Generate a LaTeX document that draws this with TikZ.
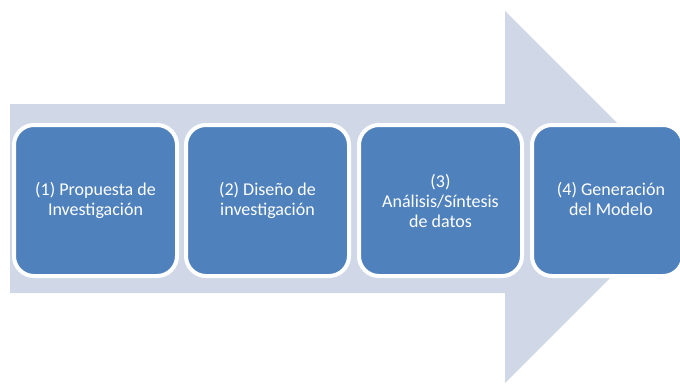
\documentclass[tikz,border=0pt]{standalone}
\usepackage{fontspec}
\setmainfont{Carlito}
\definecolor{arrowfill}{HTML}{D0D8E8}
\definecolor{boxblue}{HTML}{4F81BD}
\begin{document}
\begin{tikzpicture}[x=1pt,y=-1pt,
  stage/.style={draw=white, line width=4pt, fill=boxblue, rounded corners=20pt, minimum width=163pt, minimum height=151pt, inner sep=0pt, anchor=north west, text=white, font=\fontsize{18}{20}\selectfont, align=center},
  label4/.style={text=white, font=\fontsize{18}{20}\selectfont, align=center}]
\useasboundingbox (0,0) rectangle (680,383);
\clip (0,0) rectangle (680,383);
\fill[white] (0,0) rectangle (680,383);
\fill[arrowfill] (10,104) -- (505,104) -- (505,11) -- (691,197) -- (505,383) -- (505,293) -- (10,293) -- cycle;
\node[stage] (b1) at (12,123) {(1) Propuesta de\\Investigación};
\node[stage] (b2) at (184,123) {(2) Diseño de\\investigación};
\node[stage] (b3) at (357,123) {(3)\\Análisis/Síntesis\\de datos};
\node[stage, minimum width=151pt] (b4) at (530,123) {};
\node[label4] (t4) at (611,198.5) {(4) Generación\\del Modelo};
\end{tikzpicture}
\end{document}
